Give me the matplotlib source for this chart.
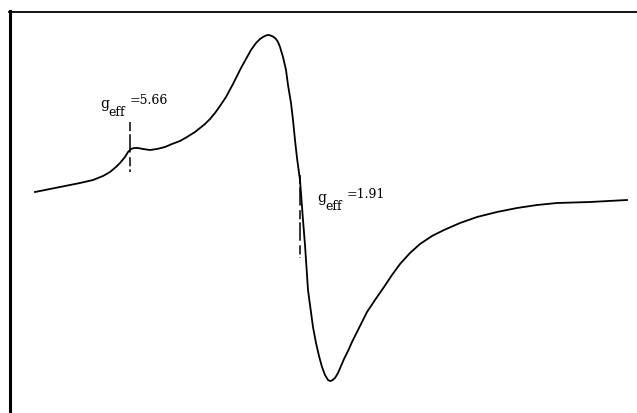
#!/usr/bin/env python3

# %% Imports
import matplotlib
matplotlib.use('Agg')
import matplotlib.pyplot as plt

# %% Trace (field position, pen deflection)
field = [35, 50, 65, 80, 93, 103, 110, 116, 120, 125, 128, 131, 134, 138,
         143, 150, 157, 165, 172, 180, 187, 195, 200, 205, 210, 215, 220,
         226, 233, 241, 246, 251, 256, 260, 263, 266, 268, 270, 273, 276,
         278, 280, 283, 286, 288, 291, 293, 295, 297, 300, 303, 305, 308,
         310, 313, 316, 319, 322, 325, 328, 330, 332, 335, 338, 341, 344,
         348, 352, 358, 367, 375, 384, 392, 400, 410, 420, 432, 444, 460,
         477, 497, 517, 537, 557, 590, 627]
signal = [192, 189, 186, 183, 180, 176, 172, 167, 163, 157, 152, 149, 148,
          148, 149, 150, 149, 147, 144, 141, 137, 132, 128, 124, 119, 113,
          106, 97, 84, 68, 59, 50, 43, 39, 37, 35.5, 35, 35.3, 36.5, 39,
          42, 47, 57, 70, 85, 103, 120, 140, 158, 180, 220, 245, 290, 305,
          327, 343, 356, 367, 375, 380, 381, 380.5, 378, 373, 366, 359, 351,
          342, 330, 312, 300, 287, 275, 264, 253, 244, 236, 230, 223, 217,
          212, 208, 205, 203, 202, 200]

# g-value markers: position on trace, vertical extent
marker_field = [130, 300]
marker_lo = [122, 175]
marker_hi = [172, 258]
marker_text = ['=5.66', '=1.91']
text_pos = [(100, 104), (317, 198)]

# %% Create plot
px = 1 / 100
fig = plt.figure(figsize=(637 * px, 413 * px), dpi=100)
ax = fig.add_axes([0, 0, 1, 1])
ax.set_xlim(0, 637)
ax.set_ylim(413, 0)

ax.plot(field, signal, '-', color='black', lw=1.3, solid_joinstyle='round')

for x, lo, hi in zip(marker_field, marker_lo, marker_hi):
    ax.vlines(x, lo, hi, color='black', lw=1.1, linestyles=(0, (6, 2, 12, 3)))

serif = 'DejaVu Serif'
for label, (tx, ty) in zip(marker_text, text_pos):
    ax.text(tx, ty, 'g', fontsize=10, family=serif, ha='left', va='center')
    ax.text(tx + 8, ty + 9, 'eff', fontsize=9, family=serif, ha='left', va='center')
    ax.text(tx + 30, ty - 4, label, fontsize=9, family=serif, ha='left', va='center')

# frame: only the left and top edges of the chart paper show
for side in ['right', 'bottom']:
    ax.spines[side].set_visible(False)
ax.spines['left'].set_position(('data', 10))
ax.spines['left'].set_linewidth(2.2)
ax.spines['left'].set_bounds(11, 413)
ax.spines['top'].set_position(('data', 12))
ax.spines['top'].set_linewidth(1.3)
ax.spines['top'].set_bounds(9, 637)
ax.set_xticks([])
ax.set_yticks([])

# %% Save plot
fig.savefig('out.png', dpi=100, facecolor='white')
